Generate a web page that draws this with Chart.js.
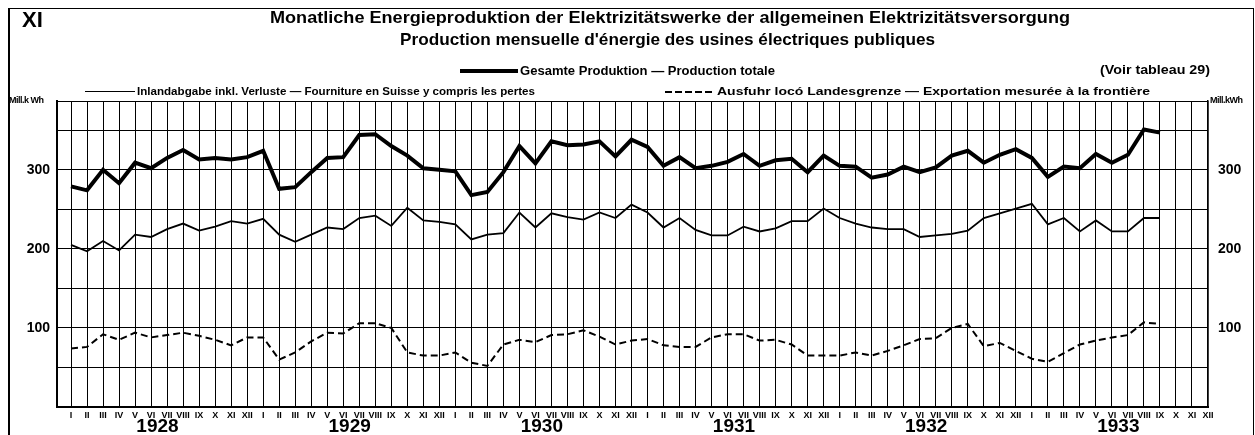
<!DOCTYPE html>
<html><head><meta charset="utf-8">
<script src="https://cdn.jsdelivr.net/npm/chart.js@4.4.0/dist/chart.umd.min.js"></script>
<style>
html,body{margin:0;padding:0;background:#fff;}
#wrap{position:relative;width:1255px;height:435px;overflow:hidden;font-family:"Liberation Sans",Arial,sans-serif;color:#000;}
canvas{position:absolute;left:0;top:0;}
.t{position:absolute;white-space:nowrap;line-height:1;transform-origin:0 50%;}
.frame{position:absolute;left:8px;top:8px;width:1243px;height:440px;border-left:2px solid #000;border-top:1px solid #000;border-right:1px solid #000;}
.ln{position:absolute;}
.dash{position:absolute;height:2px;background:repeating-linear-gradient(90deg,#000 0 7px,transparent 7px 10px);}
</style></head>
<body><div id="wrap">
<canvas id="c" width="1255" height="435"></canvas>
<div class="frame"></div>
<div class="t" style="left:22px;top:9px;font-size:22px;font-weight:bold">XI</div>
<div class="t" data-w="800" style="left:270px;top:9px;font-size:17px;font-weight:bold">Monatliche Energieproduktion der Elektrizitätswerke der allgemeinen Elektrizitätsversorgung</div>
<div class="t" data-w="535" style="left:400px;top:31px;font-size:17px;font-weight:bold">Production mensuelle d'énergie des usines électriques publiques</div>
<div class="ln" style="left:460px;top:69px;width:58px;height:0;border-top:4px solid #000"></div>
<div class="t" data-w="255" style="left:520px;top:65px;font-size:12px;font-weight:bold">Gesamte Produktion — Production totale</div>
<div class="t" data-w="110" style="left:1100px;top:64px;font-size:12.5px;font-weight:bold">(Voir tableau 29)</div>
<div class="ln" style="left:85px;top:91px;width:50px;height:0;border-top:1.5px solid #000"></div>
<div class="t" data-w="398" style="left:137px;top:86px;font-size:11.5px;font-weight:bold">Inlandabgabe inkl. Verluste — Fourniture en Suisse y compris les pertes</div>
<div class="dash" style="left:665px;top:91px;width:50px"></div>
<div class="t" data-w="433" style="left:717px;top:86px;font-size:11.5px;font-weight:bold">Ausfuhr locó Landesgrenze — Exportation mesurée à la frontière</div>
<div class="t" style="left:9px;top:96px;font-size:9px;font-weight:bold;letter-spacing:-0.5px">Mill.k Wh</div>
<div class="t" style="left:1210px;top:96px;font-size:9px;font-weight:bold;letter-spacing:-0.5px">Mill.kWh</div>
</div>
<script>
const months = ['I','II','III','IV','V','VI','VII','VIII','IX','X','XI','XII'];
const years = ['1928','1929','1930','1931','1932','1933'];
const yTickLabels = [100, 200, 300];
const total = [279,274,300,283,309,302,315,325,313,315,313,316,
               324,276,278,297,315,316,344,345,330,318,302,300,
               298,268,272,297,330,308,336,331,332,336,317,338,
               329,305,316,302,305,310,320,305,312,314,297,318,
               305,304,290,294,304,297,303,318,324,309,319,326,
               315,291,304,302,320,309,319,351,347];
const inland = [205,197,210,198,218,215,225,232,223,228,235,232,
                238,218,209,218,227,225,239,242,229,252,236,234,
                231,212,218,220,246,227,245,240,237,246,239,256,
                246,227,239,224,217,217,228,222,226,235,235,251,
                239,232,227,225,225,215,217,219,223,239,245,251,
                257,231,239,222,236,222,222,239,239];
const exportVals = [74,76,92,85,94,88,91,94,90,85,78,88,
                    88,60,69,83,94,93,106,106,100,69,65,65,
                    69,56,52,79,85,82,91,92,97,89,79,84,
                    86,78,76,76,88,92,92,84,85,79,65,65,
                    65,69,65,71,78,86,87,100,105,77,81,71,
                    61,57,68,79,84,88,91,107,105];
const Y_MAX = 387;
const FONT = '"Liberation Sans", Arial, sans-serif';
const pts = arr => arr.map((v, i) => ({x: i, y: v}));

document.querySelectorAll('.t[data-w]').forEach(el => {
  const w = el.getBoundingClientRect().width;
  el.style.transform = 'scaleX(' + (parseFloat(el.dataset.w) / w) + ')';
});

const yearLabels = {
  id: 'yearLabels',
  afterDraw(chart) {
    const {ctx, scales: {x}} = chart;
    ctx.save();
    ctx.font = 'bold 19px ' + FONT;
    ctx.fillStyle = '#000';
    ctx.textAlign = 'center';
    ctx.textBaseline = 'middle';
    years.forEach((yr, k) => ctx.fillText(yr, x.getPixelForValue(k * 12 + 5.4), 427));
    ctx.restore();
  }
};

const yTicks = s => { s.ticks = [0,50,100,150,200,250,300,350,Y_MAX].map(v => ({value: v})); };

new Chart(document.getElementById('c'), {
  type: 'line',
  data: {
    datasets: [
      {label: 'Gesamte Produktion', data: pts(total), borderColor: '#000', borderWidth: 4, pointRadius: 0, tension: 0},
      {label: 'Inlandabgabe', data: pts(inland), borderColor: '#000', borderWidth: 1.8, pointRadius: 0, tension: 0},
      {label: 'Ausfuhr', data: pts(exportVals), borderColor: '#000', borderWidth: 2, borderDash: [7, 4], pointRadius: 0, tension: 0}
    ]
  },
  options: {
    responsive: false,
    animation: false,
    layout: {padding: {top: 101, left: 0, right: 0, bottom: 0}},
    plugins: {legend: {display: false}, tooltip: {enabled: false}, title: {display: false}},
    scales: {
      x: {
        type: 'linear', min: -0.875, max: 71,
        afterBuildTicks: s => { s.ticks = Array.from({length: 72}, (_, i) => ({value: i})); },
        afterFit: s => { s.height = 28; },
        ticks: {autoSkip: false, maxRotation: 0, minRotation: 0, padding: 3, color: '#000',
                font: {family: FONT, size: 9, weight: 'bold'},
                callback: v => months[v % 12]},
        grid: {color: '#000', drawTicks: false,
               lineWidth: c => (c.tick && c.tick.value === 71) ? 1.5 : 1},
        border: {display: true, color: '#000', width: 2}
      },
      y: {
        position: 'left', min: 0, max: Y_MAX,
        afterBuildTicks: yTicks,
        afterFit: s => { s.width = 57; },
        ticks: {padding: 7, color: '#000', font: {family: FONT, size: 14, weight: 'bold'},
                callback: v => yTickLabels.includes(v) ? String(v) : ''},
        grid: {color: '#000', lineWidth: 1, drawTicks: false},
        border: {display: true, color: '#000', width: 2}
      },
      y2: {
        position: 'right', min: 0, max: Y_MAX,
        afterBuildTicks: yTicks,
        afterFit: s => { s.width = 47; },
        ticks: {padding: 10, color: '#000', font: {family: FONT, size: 14, weight: 'bold'},
                callback: v => yTickLabels.includes(v) ? String(v) : ''},
        grid: {display: false, drawTicks: false},
        border: {display: true, color: '#000', width: 1.5}
      }
    }
  },
  plugins: [yearLabels]
});
</script>
</body></html>
